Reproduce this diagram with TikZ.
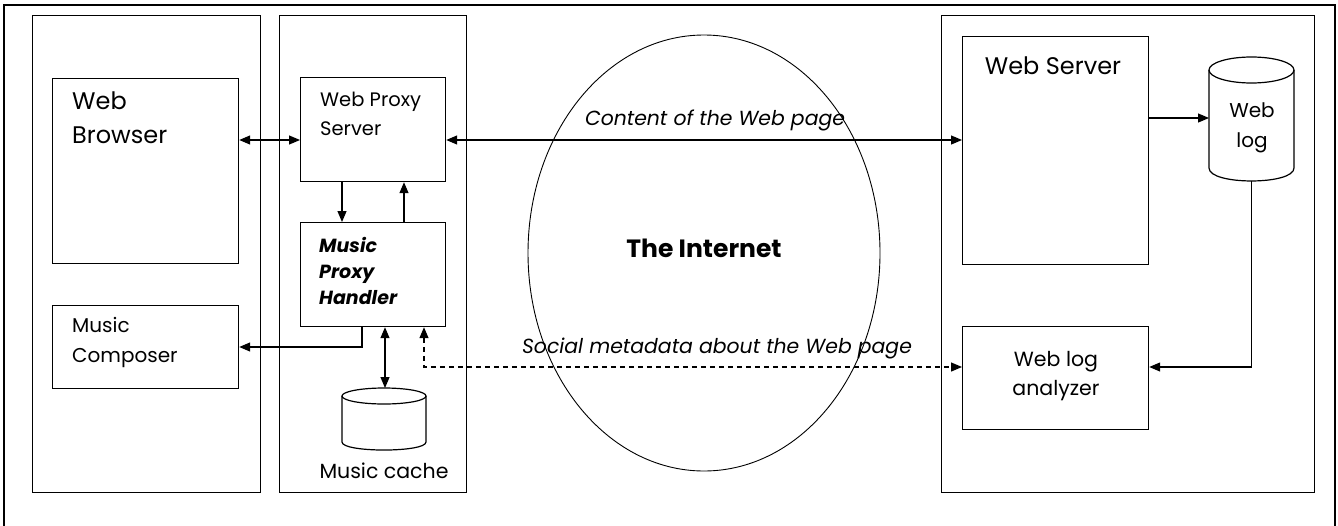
\documentclass[tikz,border=0pt]{standalone}
\usepackage{fontspec}
\setmainfont{Poppins}
\usetikzlibrary{arrows.meta,shapes.geometric}
\begin{document}
\begin{tikzpicture}[x=1pt,y=-1pt,
  box/.style={draw, line width=1.2pt, inner sep=0pt, anchor=north west},
  panel/.style={draw, line width=1.2pt, inner sep=0pt, anchor=north west},
  ghost/.style={inner sep=0pt, anchor=north west},
  tip/.tip={Triangle[length=11pt,width=9pt]},
  arr/.style={line width=1.2pt, -tip},
  darr/.style={line width=1.2pt, tip-tip},
  txt/.style={inner sep=0pt, anchor=west, align=left},
  huge/.style={font=\fontsize{24}{34}\selectfont},
  mid/.style={font=\fontsize{20}{30}\selectfont},
  lab/.style={font=\fontsize{20.4}{22}\selectfont\itshape, inner sep=0pt}
]
\useasboundingbox (0,0) rectangle (1338,525);
% outer frame (bottom edge outside picture)
\draw[line width=2pt] (4,530) -- (4,5) -- (1335,5) -- (1335,530);

% panels
\node[panel, minimum width=228, minimum height=477] (leftpanel) at (32,15) {};
\node[panel, minimum width=187, minimum height=477] (midpanel) at (279,15) {};
\node[panel, minimum width=373, minimum height=477] (rightpanel) at (941,15) {};

% internet
\node[draw, ellipse, line width=0.9pt, minimum width=352, minimum height=436, inner sep=0pt,
      font=\fontsize{25}{28}\selectfont\bfseries] (internet) at (704,253) {};
\node[inner sep=0pt, font=\fontsize{25}{28}\selectfont\bfseries] (internettext) at (704,248) {The Internet};

% boxes
\node[box, minimum width=186, minimum height=185] (browser) at (52,78) {};
\node[box, minimum width=186, minimum height=83] (composer) at (52,305) {};
\node[box, minimum width=145, minimum height=104] (wps) at (300,77) {};
\node[box, minimum width=145, minimum height=104] (mph) at (300,222) {};
\node[box, minimum width=186, minimum height=228] (ws) at (962,36) {};
\node[box, minimum width=186, minimum height=103] (wla) at (962,326) {};
\node[ghost, minimum width=85, minimum height=124] (weblog) at (1209,57) {};
\node[ghost, minimum width=84, minimum height=62] (cache) at (342,388) {};

% cylinders
\draw[line width=1.2pt] (1251.5,70) ellipse [x radius=42.5, y radius=13];
\draw[line width=1.2pt] (1209,70) -- (1209,168) .. controls (1209,185.3) and (1294,185.3) .. (1294,168) -- (1294,70);
\draw[line width=1.2pt] (384,396) ellipse [x radius=42, y radius=8];
\draw[line width=1.2pt] (342,396) -- (342,442) .. controls (342,452.7) and (426,452.7) .. (426,442) -- (426,396);

% texts
\node[txt, huge] (browsertext) at (72,118) {Web\\Browser};
\node[txt, mid] (composertext) at (72,342) {Music\\Composer};
\node[txt, font=\fontsize{19.5}{29}\selectfont] (wpstext) at (320,114) {Web Proxy\\Server};
\node[txt, font=\fontsize{19}{26}\selectfont\bfseries\itshape] (mphtext) at (319,271) {Music\\Proxy\\Handler};
\node[inner sep=0pt, huge] (wstext) at (1053,66) {Web Server};
\node[inner sep=0pt, font=\fontsize{20.5}{29}\selectfont, align=center] (wlatext) at (1056,376) {Web log\\analyzer};
\node[inner sep=0pt, mid, align=center] (weblogtext) at (1252,128) {Web\\log};
\node[inner sep=0pt, font=\fontsize{20.5}{24}\selectfont] (cachetext) at (384,471) {Music cache};
\node[lab] (contentlab) at (715,120) {Content of the Web page};
\node[lab] (sociallab) at (717,348) {Social metadata about the Web page};

% connectors
\draw[darr] (browser.east |- 0,140) -- (wps.west |- 0,140);
\draw[darr] (wps.east |- 0,140) -- (ws.west |- 0,140);
\draw[arr] (wps.south -| 342,0) -- (mph.north -| 342,0);
\draw[arr] (mph.north -| 404,0) -- (wps.south -| 404,0);
\draw[arr] (mph.south -| 362,0) |- (composer.east |- 0,347);
\draw[darr] (mph.south -| 385,0) -- (cache.north -| 385,0);
\draw[darr, dash pattern=on 5pt off 4pt] (mph.south -| 424,0) |- (wla.west |- 0,367);
\draw[arr] (ws.east |- 0,118) -- (weblog.west |- 0,118);
\draw[arr] (weblog.south) |- (wla.east |- 0,367);
\end{tikzpicture}
\end{document}
